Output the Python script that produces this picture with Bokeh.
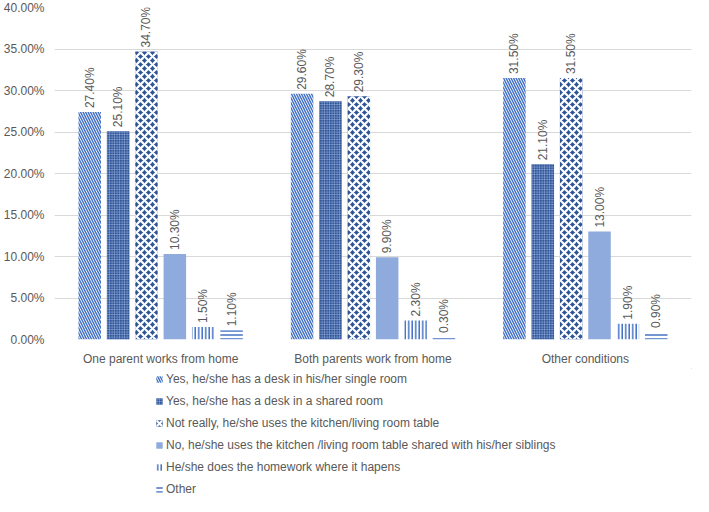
from math import pi
from bokeh.plotting import figure
from bokeh.layouts import column
from bokeh.models import (FactorRange, Legend, LegendItem, NumeralTickFormatter,
                          ColumnDataSource, FixedTicker, Range1d)
from bokeh.transform import dodge
from bokeh.core.properties import value
from bokeh.embed import file_html
from bokeh.resources import INLINE

groups = ["One parent works from home", "Both parents work from home", "Other conditions"]
series_names = [
    "Yes, he/she has a desk in his/her single room",
    "Yes, he/she has a desk in a shared room",
    "Not really, he/she uses the kitchen/living room table",
    "No, he/she uses the kitchen /living room table shared with his/her siblings",
    "He/she does the homework where it hapens",
    "Other",
]
desk_single = [27.4, 29.6, 31.5]
desk_shared = [25.1, 28.7, 21.1]
kitchen_table = [34.7, 29.3, 31.5]
kitchen_siblings = [10.3, 9.9, 13.0]
where_happens = [1.5, 2.3, 1.9]
other = [1.1, 0.3, 0.9]
all_values = [desk_single, desk_shared, kitchen_table, kitchen_siblings, where_happens, other]
y_ticks = [0, 0.05, 0.10, 0.15, 0.20, 0.25, 0.30, 0.35, 0.40]

styles = [
    dict(fill_color="white", hatch_pattern="\\", hatch_color="#4472C4", hatch_scale=5, hatch_weight=1.5),
    dict(fill_color="#2F5597", hatch_pattern="+", hatch_color="#9DB3E0", hatch_scale=2.5, hatch_weight=0.6),
    dict(fill_color="#2F5597", hatch_pattern="x", hatch_color="white", hatch_scale=8, hatch_weight=2.2),
    dict(fill_color="#8FAADC"),
    dict(fill_color="white", hatch_pattern="|", hatch_color="#4472C4", hatch_scale=3.5, hatch_weight=1.5),
    dict(fill_color="white", hatch_pattern="-", hatch_color="#4472C4", hatch_scale=4, hatch_weight=1.5),
]

FONT = "Liberation Sans"
GREY = "#595959"

p = figure(x_range=FactorRange(factors=groups, range_padding=0), y_range=(0, 0.40),
           width=693, height=368, output_backend="svg", toolbar_location=None,
           min_border_top=7, min_border_left=4, min_border_right=2, min_border_bottom=0)

step = 0.1336
bar_w = 0.106
for i, (name, vals, st) in enumerate(zip(series_names, all_values, styles)):
    src = ColumnDataSource(dict(g=groups, y=[v / 100 for v in vals],
                                lab=["%.2f%%" % v for v in vals]))
    off = (i - 2.5) * step
    p.vbar(x=dodge("g", off, range=p.x_range), top="y", width=bar_w, source=src,
           line_color=None, **st)
    p.text(x=dodge("g", off, range=p.x_range), y="y", text="lab", source=src,
           angle=pi / 2, text_align="left", text_baseline="middle", y_offset=-4,
           text_font=value(FONT), text_font_size="12px", text_color=GREY)

p.yaxis.ticker = FixedTicker(ticks=y_ticks)
p.yaxis.formatter = NumeralTickFormatter(format="0.00%")
for ax in (p.xaxis, p.yaxis):
    ax.axis_line_color = None
    ax.major_tick_line_color = None
    ax.minor_tick_line_color = None
    ax.major_tick_out = 0
    ax.major_tick_in = 0
    ax.minor_tick_out = 0
    ax.minor_tick_in = 0
    ax.major_label_text_font = FONT
    ax.major_label_text_font_size = "12px"
    ax.major_label_text_color = GREY
p.yaxis.major_label_standoff = 10
p.xaxis.major_label_standoff = 12
p.xgrid.grid_line_color = None
p.ygrid.grid_line_color = "#D9D9D9"
p.outline_line_color = None

# legend figure (dummy renderers outside the visible range only feed the legend)
lf = figure(width=693, height=128, output_backend="svg", toolbar_location=None,
            x_range=Range1d(0, 1), y_range=Range1d(0, 1),
            x_axis_location=None, y_axis_location=None,
            min_border=0, min_border_left=0, min_border_right=0,
            min_border_top=0, min_border_bottom=0)
lf.grid.visible = False
lf.outline_line_color = None
items = []
for name, st in zip(series_names, styles):
    r = lf.vbar(x=[5], top=[5], bottom=[4], width=0.1, line_color=None, **st)
    items.append(LegendItem(label=name, renderers=[r]))
legend = Legend(items=items, location=(101, 0), orientation="vertical",
                glyph_width=8, glyph_height=8, label_standoff=3, spacing=8,
                padding=2, margin=0, label_height=14,
                label_text_font_size="12px", label_text_color=GREY,
                label_text_font=FONT, border_line_color=None,
                background_fill_alpha=0)
lf.add_layout(legend, "center")

open("out.html", "w").write(file_html(column(p, lf), INLINE))
